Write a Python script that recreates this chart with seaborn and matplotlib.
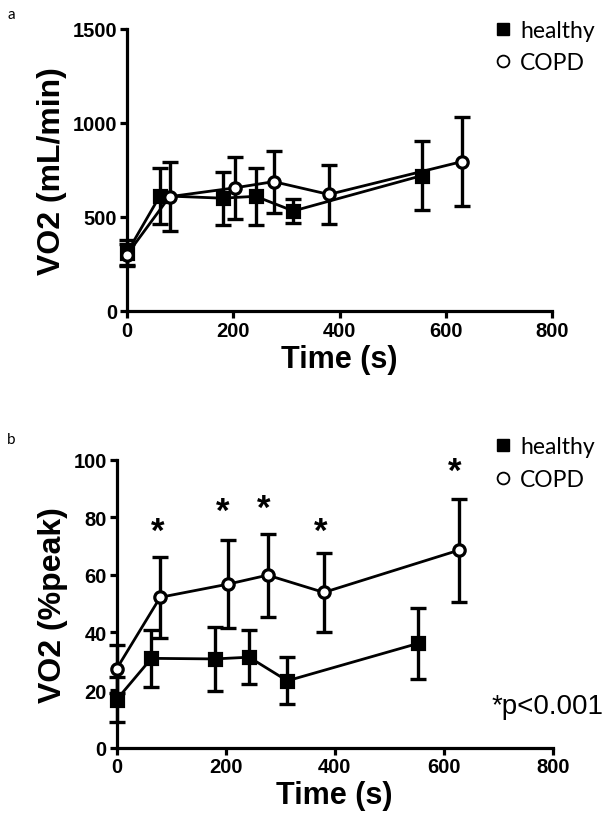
import matplotlib
matplotlib.use("Agg")
import matplotlib.pyplot as plt
import seaborn as sns
import pandas as pd
from matplotlib.lines import Line2D

# ---- data: panel a (VO2 mL/min) ----
a_healthy_t = [0, 62, 180, 242, 313, 555]
a_healthy_v = [310, 613, 600, 610, 532, 720]
a_healthy_sd = [70, 150, 140, 150, 65, 183]
a_copd_t = [0, 80, 203, 276, 380, 631]
a_copd_v = [300, 608, 655, 688, 620, 795]
a_copd_sd = [55, 185, 165, 165, 157, 237]

# ---- data: panel b (VO2 %peak) ----
b_healthy_t = [0, 64, 180, 243, 313, 553]
b_healthy_v = [16.6, 31.0, 30.8, 31.4, 23.2, 36.2]
b_healthy_sd = [7.8, 10.0, 11.0, 9.3, 8.1, 12.4]
b_copd_t = [0, 80, 205, 277, 380, 628]
b_copd_v = [27.3, 52.2, 56.8, 59.9, 53.9, 68.6]
b_copd_sd = [8.3, 14.0, 15.2, 14.4, 13.7, 17.9]

star_t = [75, 195, 270, 375, 620]
star_v = [75, 82, 83, 75, 96]

xticks = [0, 200, 400, 600, 800]
a_yticks = [0, 500, 1000, 1500]
b_yticks = [0, 20, 40, 60, 80, 100]

sns.set_theme(style="ticks")
plt.rcParams["font.family"] = ["Liberation Sans", "DejaVu Sans"]
for k in ["text.color", "axes.labelcolor", "xtick.color", "ytick.color", "axes.edgecolor"]:
    plt.rcParams[k] = "black"

fig = plt.figure(figsize=(6.11, 8.28), dpi=100)
axA = fig.add_axes([0.2079, 0.6232, 0.6955, 0.3406])
axB = fig.add_axes([0.1907, 0.0959, 0.7143, 0.3477])

LW_SPINE = 2.3
LW_LINE = 2.0
LW_ERR = 2.4


def draw_series(ax, t, v, sd, name, marker, mfc):
    df = pd.DataFrame({"Time": t, "VO2": v, "sd": sd})
    ax.errorbar(df["Time"], df["VO2"], yerr=df["sd"], fmt="none", ecolor="black",
                elinewidth=LW_ERR, capsize=5.5, capthick=LW_ERR, clip_on=False, zorder=2)
    sns.lineplot(data=df, x="Time", y="VO2", ax=ax, color="black", linewidth=LW_LINE,
                 marker=marker, markersize=8.2,
                 markerfacecolor=mfc, markeredgecolor="black",
                 markeredgewidth=2.3, clip_on=False, zorder=3, label=name, legend=False)


def style_axis(ax, yticks, ylabel):
    ax.set_xlim(0, 800)
    ax.set_ylim(yticks[0], yticks[-1])
    ax.set_xticks(xticks)
    ax.set_yticks(yticks)
    ax.set_xticklabels([str(x) for x in xticks], fontsize=14.5, fontweight="bold")
    ax.set_yticklabels([str(y) for y in yticks], fontsize=14.5, fontweight="bold")
    for s in ["top", "right"]:
        ax.spines[s].set_visible(False)
    for s in ["left", "bottom"]:
        ax.spines[s].set_linewidth(LW_SPINE)
    ax.tick_params(axis="both", width=LW_SPINE, length=5, direction="out", pad=2, colors="black")
    ax.set_xlabel("Time (s)", fontsize=22, fontweight="bold", labelpad=3)
    ax.set_ylabel(ylabel, fontsize=23, fontweight="bold", labelpad=4)


draw_series(axA, a_healthy_t, a_healthy_v, a_healthy_sd, "healthy", "s", "black")
draw_series(axA, a_copd_t, a_copd_v, a_copd_sd, "COPD", "o", "white")
style_axis(axA, a_yticks, "VO2 (mL/min)")

draw_series(axB, b_healthy_t, b_healthy_v, b_healthy_sd, "healthy", "s", "black")
draw_series(axB, b_copd_t, b_copd_v, b_copd_sd, "COPD", "o", "white")
style_axis(axB, b_yticks, "VO2 (%peak)")

for t, v in zip(star_t, star_v):
    axB.text(t, v, "*", ha="center", va="center", fontsize=25, fontweight="bold")

handles = [
    Line2D([], [], linestyle="none", marker="s", markersize=8.5, color="black"),
    Line2D([], [], linestyle="none", marker="o", markersize=8.5, markerfacecolor="white",
           markeredgecolor="black", markeredgewidth=1.3),
]
for ax, y in [(axA, 0.986), (axB, 0.483)]:
    fig.legend(handles, ["healthy", "COPD"], loc="upper left",
               bbox_to_anchor=(0.797, y), frameon=False,
               prop={"family": "Lato", "size": 16.5}, handlelength=0.6,
               handletextpad=0.45, labelspacing=0.5, borderaxespad=0)

fig.text(0.804, 0.146, "*p<0.001", fontsize=20, family="Liberation Sans",
         ha="left", va="center")
fig.text(0.012, 0.990, "a", fontsize=11, family="Lato", ha="left", va="top")
fig.text(0.012, 0.477, "b", fontsize=11, family="Lato", ha="left", va="top")

fig.savefig("out.png", dpi=100, facecolor="white")
